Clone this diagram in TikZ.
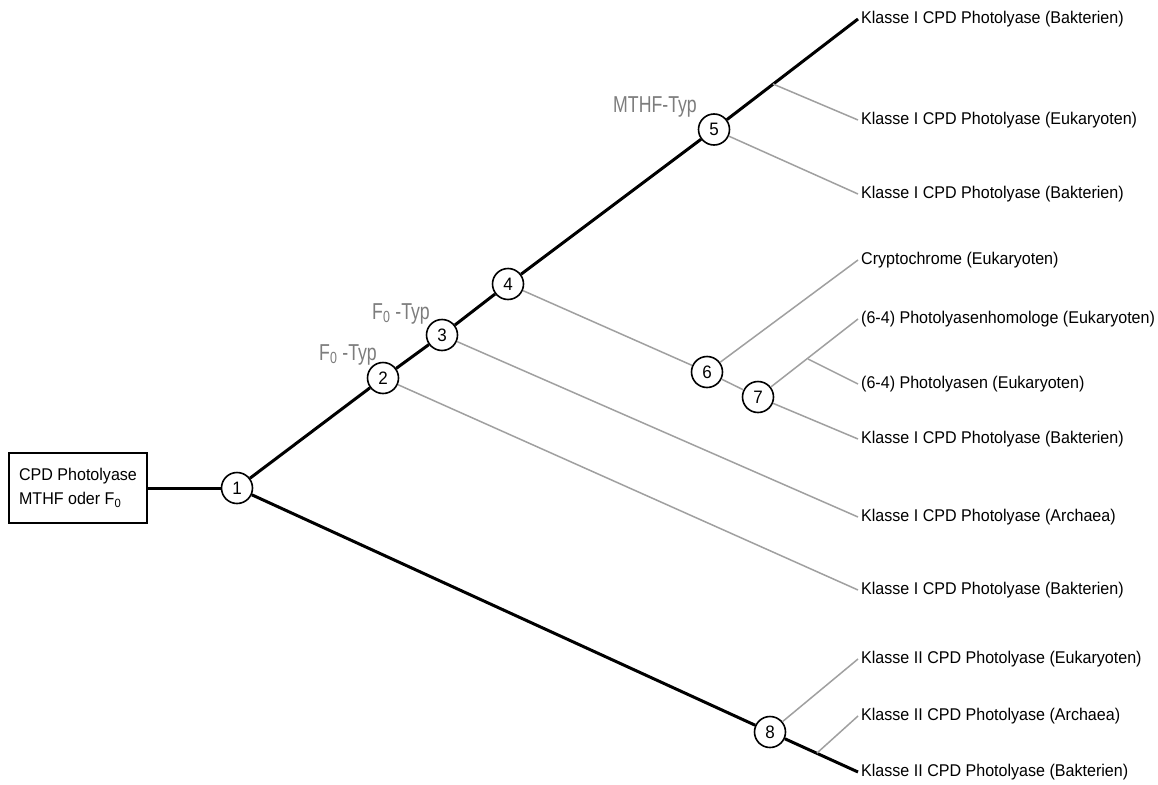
\documentclass[tikz,border=0pt]{standalone}
\usepackage{fontspec}
\setmainfont{Liberation Sans}
\newfontfamily\labfont[FakeStretch=0.945]{Liberation Sans}
\newfontfamily\typfont[FakeStretch=0.77]{Liberation Sans}
\definecolor{branchgray}{RGB}{160,160,160}
\definecolor{typgray}{RGB}{125,125,125}
\begin{document}
\begin{tikzpicture}[x=1pt,y=-1pt,
  trunk/.style={line width=3pt, black},
  twig/.style={line width=1.5pt, branchgray},
  numnode/.style={circle, draw, line width=1.6pt, fill=white, minimum size=31pt, inner sep=0pt,
    font=\labfont\fontsize{18}{20}\selectfont},
  leaf/.style={anchor=west, inner sep=3pt, font=\labfont\fontsize{17}{20}\selectfont},
  typlabel/.style={inner sep=0pt, text=typgray, font=\typfont\fontsize{23}{26}\selectfont},
  rootbox/.style={draw, line width=2.8pt, minimum width=138pt, minimum height=70pt, align=left,
    font=\labfont\fontsize{17}{24}\selectfont}]
\useasboundingbox (0,0) rectangle (1158,784);
\fill[white] (0,0) rectangle (1158,784);

% root box
\node[rootbox] (root) at (78,488) {CPD Photolyase\\MTHF oder F\textsubscript{0}};

% numbered nodes
\node[numnode] (n1) at (237,488) {1};
\node[numnode] (n2) at (383,378) {2};
\node[numnode] (n3) at (442,335) {3};
\node[numnode] (n4) at (508,284) {4};
\node[numnode] (n5) at (714,129.5) {5};
\node[numnode] (n6) at (707,372) {6};
\node[numnode] (n7) at (758,397) {7};
\node[numnode] (n8) at (770,732) {8};

% branch points
\coordinate (b5) at (773,84);
\coordinate (b7) at (808,359);
\coordinate (b8) at (817,753);

% leaf labels
\node[leaf] (t1)  at (858,19)  {Klasse I CPD Photolyase (Bakterien)};
\node[leaf] (t2)  at (858,120) {Klasse I CPD Photolyase (Eukaryoten)};
\node[leaf] (t3)  at (858,194) {Klasse I CPD Photolyase (Bakterien)};
\node[leaf] (t4)  at (858,260) {Cryptochrome (Eukaryoten)};
\node[leaf] (t5)  at (858,319) {(6-4) Photolyasenhomologe (Eukaryoten)};
\node[leaf] (t6)  at (858,384) {(6-4) Photolyasen (Eukaryoten)};
\node[leaf] (t7)  at (858,439) {Klasse I CPD Photolyase (Bakterien)};
\node[leaf] (t8)  at (858,517) {Klasse I CPD Photolyase (Archaea)};
\node[leaf] (t9)  at (858,590) {Klasse I CPD Photolyase (Bakterien)};
\node[leaf] (t10) at (858,659) {Klasse II CPD Photolyase (Eukaryoten)};
\node[leaf] (t11) at (858,716) {Klasse II CPD Photolyase (Archaea)};
\node[leaf] (t12) at (858,772) {Klasse II CPD Photolyase (Bakterien)};

% type labels
\node[typlabel, anchor=base east] (ty5) at (697,112) {MTHF-Typ};
\node[typlabel, anchor=base east] (ty3) at (430,319) {F\textsubscript{0} -Typ};
\node[typlabel, anchor=base east] (ty2) at (377,360) {F\textsubscript{0} -Typ};

% trunk lines
\draw[trunk] (root) -- (n1);
\draw[trunk] (n1) -- (n2);
\draw[trunk] (n2) -- (n3);
\draw[trunk] (n3) -- (n4);
\draw[trunk] (n4) -- (n5);
\draw[trunk] (n5) -- (t1.west);
\draw[trunk] (n1) -- (n8);
\draw[trunk] (n8) -- (t12.west);

% gray branches
\draw[twig] (b5) -- (t2.west);
\draw[twig] (n5) -- (t3.west);
\draw[twig] (n4) -- (n6);
\draw[twig] (n6) -- (t4.west);
\draw[twig] (n6) -- (n7);
\draw[twig] (n7) -- (t5.west);
\draw[twig] (b7) -- (t6.west);
\draw[twig] (n7) -- (t7.west);
\draw[twig] (n3) -- (t8.west);
\draw[twig] (n2) -- (t9.west);
\draw[twig] (n8) -- (t10.west);
\draw[twig] (b8) -- (t11.west);
\end{tikzpicture}
\end{document}
